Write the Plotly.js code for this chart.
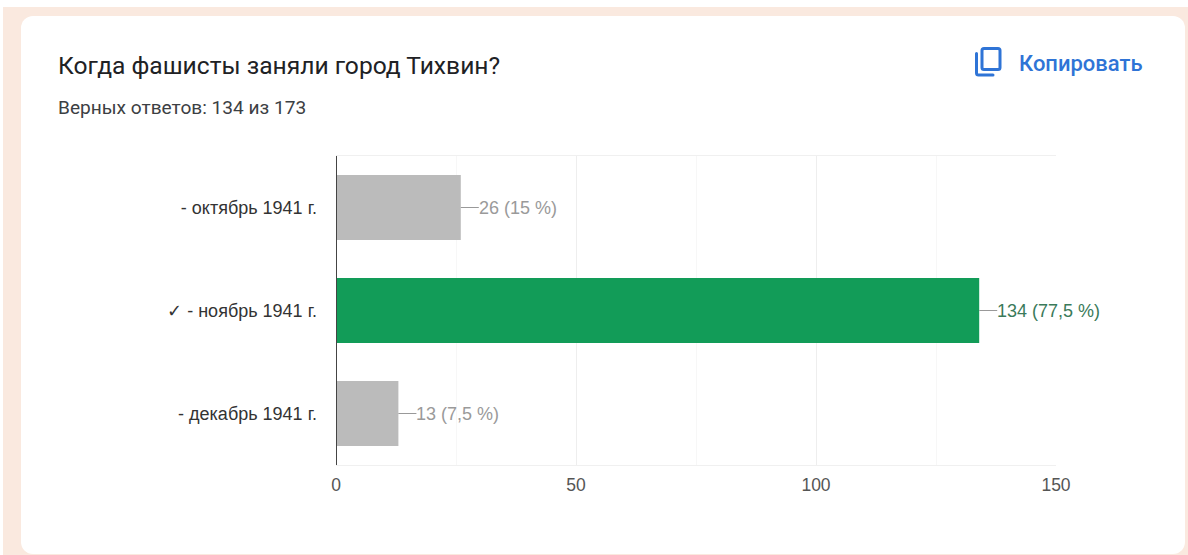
<!DOCTYPE html>
<html>
<head>
<meta charset="utf-8">
<script src="https://cdn.plot.ly/plotly-3.0.1.min.js"></script>
<style>
html,body{margin:0;padding:0;width:1188px;height:555px;overflow:hidden;background:#fff;}
#peach{position:absolute;left:3px;top:7px;width:1185px;height:548px;background:#fae9df;}
#card{position:absolute;left:21px;top:16px;width:1164px;height:538px;background:#fff;border-radius:12px;}
#icon{position:absolute;left:974px;top:46px;}
#chart{position:absolute;left:0;top:0;width:1188px;height:555px;}
</style>
</head>
<body>
<div id="peach"></div>
<div id="card"></div>
<svg id="icon" width="30" height="32" viewBox="0 0 30 32">
  <g fill="none" stroke="#2f74d6" stroke-width="3" stroke-linejoin="round" stroke-linecap="round">
    <rect x="8" y="2.5" width="18" height="21" rx="2"/>
    <path d="M2.5 7.5 V27 a2 2 0 0 0 2 2 H19"/>
  </g>
</svg>
<div id="chart"></div>
<script>
const categories = ["- октябрь 1941 г.", "✓ - ноябрь 1941 г.", "- декабрь 1941 г."];
const counts = [26, 134, 13];
const pointLabels = ["26 (15 %)", "134 (77,5 %)", "13 (7,5 %)"];
const barColors = ["#bbbbbb", "#129c58", "#bbbbbb"];
const labelColors = ["#9a9a9a", "#3a7a5a", "#9a9a9a"];
const xTicks = [0, 50, 100, 150];
const titleText = "Когда фашисты заняли город Тихвин?";
const subtitleText = "Верных ответов: 134 из 173";
const copyText = "Копировать";

const W = 1188, H = 555;
const m = {l: 336, r: 132, t: 156, b: 90};
const pw = W - m.l - m.r, ph = H - m.t - m.b;
const px = x => (x - m.l) / pw;
const py = y => 1 - (y - m.t) / ph;

const textAnn = (x, y, text, size, color, family, weight) => ({
  xref: "paper", yref: "paper", x: px(x), y: py(y), text, showarrow: false,
  xanchor: "left", yanchor: "middle",
  font: {size, color, family, weight: weight || 400}
});

const annotations = [
  textAnn(56, 65, titleText, 24.6, "#202124", "Roboto, sans-serif"),
  textAnn(56, 107.5, subtitleText, 19.1, "#3c4043", "Roboto, sans-serif"),
  textAnn(1017, 63, copyText, 22, "#2f74d6", "Roboto, sans-serif", 500)
];
counts.forEach((v, i) => annotations.push({
  x: v, y: categories[i], xref: "x", yref: "y", text: pointLabels[i],
  showarrow: true, arrowhead: 0, arrowwidth: 1.2, arrowcolor: "#999999",
  ax: 18, ay: 0, axref: "pixel", ayref: "pixel", standoff: 0,
  xanchor: "left", yanchor: "middle", borderpad: 0, borderwidth: 0,
  font: {size: 18, color: labelColors[i], family: "Liberation Sans, Arial, sans-serif"}
}));

Plotly.newPlot("chart", [{
  type: "bar", orientation: "h",
  y: categories, x: counts,
  marker: {color: barColors, line: {width: 0}},
  hoverinfo: "skip"
}], {
  width: W, height: H,
  margin: {l: m.l, r: m.r, t: m.t, b: m.b, pad: 0},
  paper_bgcolor: "rgba(0,0,0,0)", plot_bgcolor: "rgba(0,0,0,0)",
  showlegend: false, bargap: 0.37,
  font: {family: "Liberation Sans, Arial, sans-serif", size: 18, color: "#444444"},
  xaxis: {
    range: [0, 150], tickmode: "array", tickvals: xTicks, ticktext: xTicks.map(String),
    showgrid: true, gridcolor: "#eeeeee", gridwidth: 1, zeroline: false,
    minor: {tickmode: "linear", tick0: 25, dtick: 50, showgrid: true, gridcolor: "#f7f7f7", gridwidth: 1, ticks: ""},
    showline: true, linecolor: "#f0f0f0", linewidth: 1, mirror: true,
    ticks: "", ticklabelstandoff: 4,
    tickfont: {size: 17.5, color: "#555555"}
  },
  yaxis: {
    type: "category", categoryorder: "array", categoryarray: categories,
    autorange: "reversed", showgrid: false, zeroline: false,
    showline: false,
    ticks: "", ticklabelstandoff: 18,
    tickfont: {size: 18, color: "#333333"}
  },
  shapes: [{type: "line", xref: "x", yref: "paper", x0: 0, x1: 0, y0: 0, y1: 1, layer: "above",
            line: {color: "#444444", width: 2}}],
  annotations
}, {displayModeBar: false, staticPlot: true});
</script>
</body>
</html>
